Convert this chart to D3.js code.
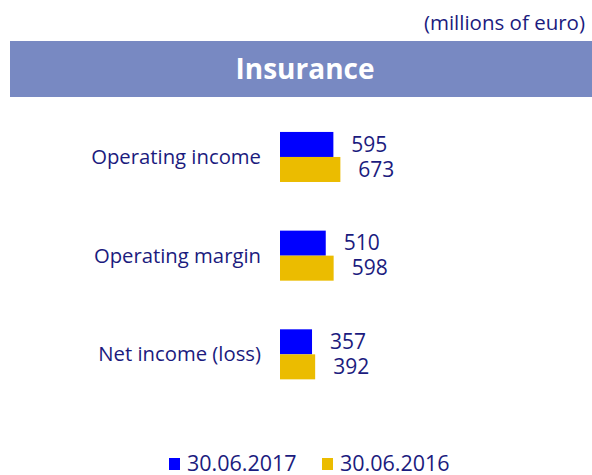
<!DOCTYPE html>
<html>
<head>
<meta charset="utf-8">
<script src="https://cdn.jsdelivr.net/npm/d3@7"></script>
<style>
  body { margin: 0; background: #fff; }
  text { font-family: "Open Sans", "Noto Sans", sans-serif; }
</style>
</head>
<body>
<div id="chart"></div>
<script>
// data
var categories = ["Operating income", "Operating margin", "Net income (loss)"];
var seriesNames = ["30.06.2017", "30.06.2016"];
var values2017 = [595, 510, 357];
var values2016 = [673, 598, 392];
var colors = ["#0000ff", "#ebbc00"];

var width = 592, height = 475;
var navy = "#1b1b7e";

var svg = d3.select("#chart").append("svg")
  .attr("width", width)
  .attr("height", height);

// unit label
svg.append("text")
  .attr("x", 585)
  .attr("y", 30)
  .attr("text-anchor", "end")
  .style("font-size", "20.5px")
  .style("fill", navy)
  .text("(millions of euro)");

// title bar
svg.append("rect")
  .attr("x", 10)
  .attr("y", 41)
  .attr("width", width - 10)
  .attr("height", 56)
  .style("fill", "#7889c2");

svg.append("text")
  .attr("x", 305)
  .attr("y", 79)
  .attr("text-anchor", "middle")
  .style("font-size", "28px")
  .style("font-weight", "bold")
  .style("fill", "#ffffff")
  .text("Insurance");

// scales
var x = d3.scaleLinear()
  .domain([0, 1000])
  .range([280, 369.7]);

var y = d3.scaleBand()
  .domain(categories)
  .range([83.3, 428])
  .paddingInner(0.493)
  .paddingOuter(0.493);

var ySub = d3.scaleBand()
  .domain(seriesNames)
  .range([0, y.bandwidth()]);

var rows = categories.map(function(c, i) {
  return { cat: c, vals: [values2017[i], values2016[i]] };
});

var groups = svg.append("g")
  .selectAll("g")
  .data(rows)
  .enter()
  .append("g")
  .attr("transform", function(d) { return "translate(0," + y(d.cat) + ")"; });

// category labels
groups.append("text")
  .attr("x", 261)
  .attr("y", y.bandwidth() / 2)
  .attr("dy", "0.35em")
  .attr("text-anchor", "end")
  .style("font-size", "20.3px")
  .style("fill", navy)
  .text(function(d) { return d.cat; });

// bars
groups.selectAll("rect")
  .data(function(d) { return d.vals.map(function(v, j) { return { v: v, s: seriesNames[j], j: j }; }); })
  .enter()
  .append("rect")
  .attr("x", x(0))
  .attr("y", function(d) { return ySub(d.s); })
  .attr("width", function(d) { return x(d.v) - x(0); })
  .attr("height", ySub.bandwidth())
  .style("fill", function(d) { return colors[d.j]; });

// value labels
groups.selectAll(".val")
  .data(function(d) { return d.vals.map(function(v, j) { return { v: v, s: seriesNames[j] }; }); })
  .enter()
  .append("text")
  .attr("class", "val")
  .attr("x", function(d) { return x(d.v) + 18; })
  .attr("y", function(d) { return ySub(d.s) + ySub.bandwidth() / 2; })
  .attr("dy", "0.35em")
  .style("font-size", "21px")
  .style("fill", navy)
  .text(function(d) { return d.v; });

// legend
var legendX = [169, 322];
var legend = svg.append("g")
  .selectAll("g")
  .data(seriesNames)
  .enter()
  .append("g")
  .attr("transform", function(d, i) { return "translate(" + legendX[i] + ",458)"; });

legend.append("rect")
  .attr("width", 11)
  .attr("height", 12)
  .style("fill", function(d, i) { return colors[i]; });

legend.append("text")
  .attr("x", 18)
  .attr("y", 12.5)
  .style("font-size", "21.5px")
  .style("fill", navy)
  .text(function(d) { return d; });
</script>
</body>
</html>
